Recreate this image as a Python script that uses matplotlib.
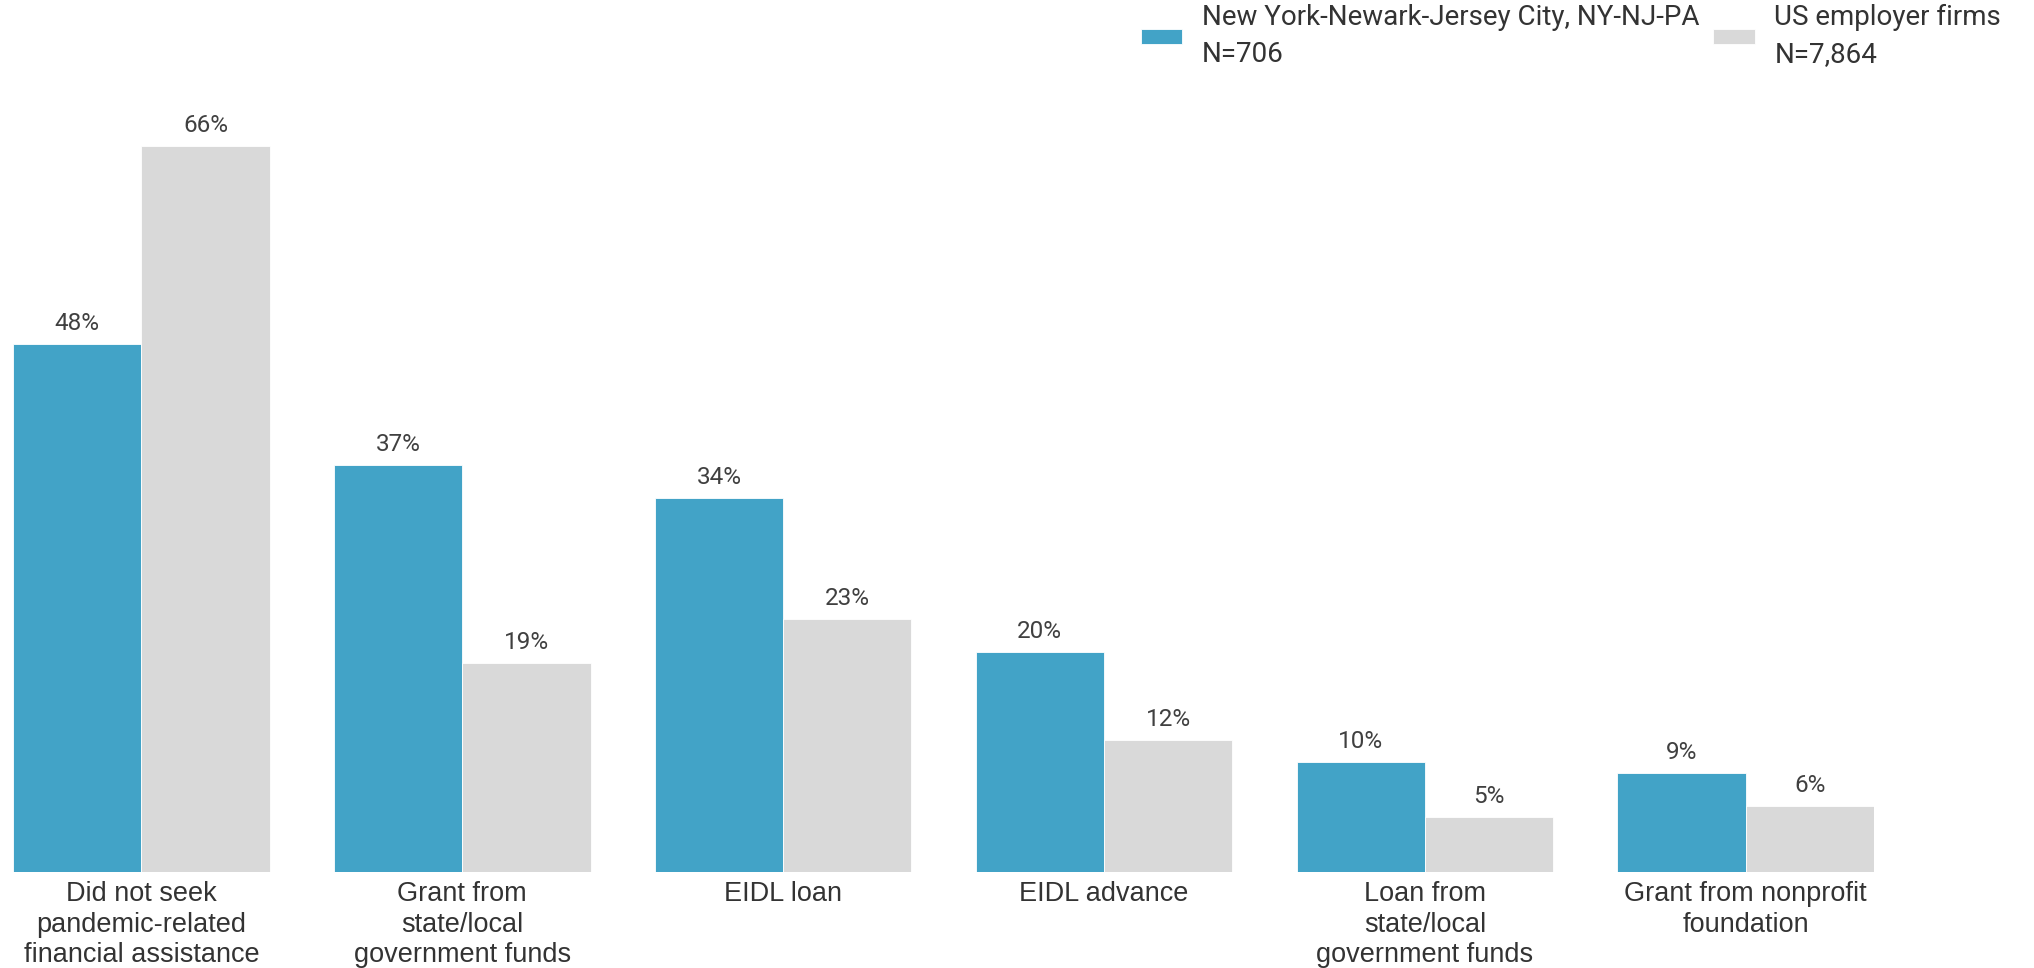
import numpy as np
import matplotlib
matplotlib.use('Agg')
import matplotlib.pyplot as plt

plt.rcParams['font.family'] = ['Roboto', 'DejaVu Sans']

categories = ['Did not seek\npandemic-related\nfinancial assistance',
              'Grant from\nstate/local\ngovernment funds',
              'EIDL loan',
              'EIDL advance',
              'Loan from\nstate/local\ngovernment funds',
              'Grant from nonprofit\nfoundation']
nyc = [48, 37, 34, 20, 10, 9]
us = [66, 19, 23, 12, 5, 6]
series_names = ['New York-Newark-Jersey City, NY-NJ-PA\nN=706',
                'US employer firms\nN=7,864']

blue = '#42a3c7'
gray = '#d9d9d9'
txt = '#333333'

fig = plt.figure(figsize=(20.34, 9.68), dpi=100)
ax = fig.add_axes([0.0064, 0.0996, 0.915, 0.7954])

x = np.arange(len(categories))
w = 0.4
b1 = ax.bar(x - w/2, nyc, w, color=blue, edgecolor='white', linewidth=0.6, label=series_names[0])
b2 = ax.bar(x + w/2, us, w, color=gray, edgecolor='white', linewidth=0.6, label=series_names[1])

for bars, vals in [(b1, nyc), (b2, us)]:
    ax.bar_label(bars, labels=[f'{v}%' for v in vals], padding=6, fontsize=17.5, color='#404040')

ax.set_xlim(-0.4, 5.4)
ax.set_ylim(0, 70)
ax.set_xticks(x)
ax.set_xticklabels(categories, fontsize=19.5, color=txt, linespacing=1.22,
                   family=['Liberation Sans', 'DejaVu Sans'])
ax.tick_params(axis='x', length=0, pad=7)
ax.set_yticks([])
for s in ax.spines.values():
    s.set_visible(False)

leg = fig.legend(loc='upper right', bbox_to_anchor=(0.992, 1.013), ncol=2, frameon=False,
                 fontsize=20, handlelength=1.5, handleheight=0.5, handletextpad=0.7,
                 columnspacing=0.5, borderaxespad=0.2)
for t in leg.get_texts():
    t.set_color(txt)
    t.set_linespacing(1.45)

fig.savefig('out.png', dpi=100)
